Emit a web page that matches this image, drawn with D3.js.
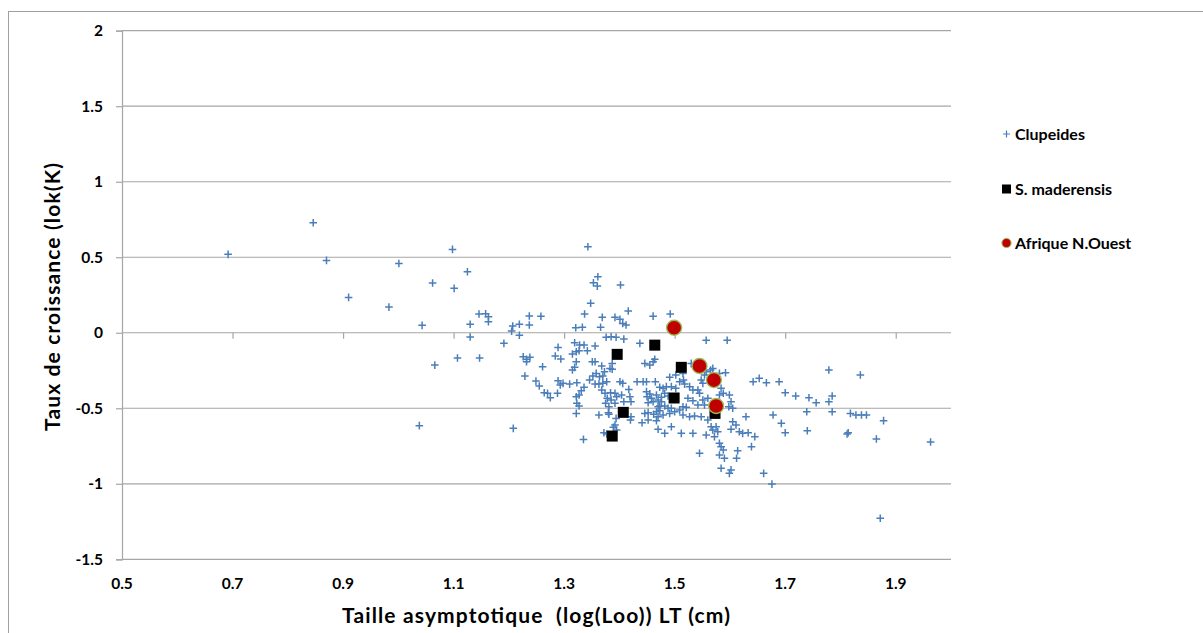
<!DOCTYPE html>
<html>
<head>
<meta charset="utf-8">
<script src="https://cdn.jsdelivr.net/npm/d3@7"></script>
<style>
  html, body { margin: 0; padding: 0; background: #ffffff; }
  svg { display: block; font-family: Lato, "Noto Sans", sans-serif; }
</style>
</head>
<body>
<svg id="chart" width="1203" height="633"></svg>
<script>
// Clupeides: log asymptotic length (x) vs growth rate log(K) (y)
const clupeidesX = [
  0.692,0.846,0.870,0.910,0.983,1.001,1.043,1.062,1.066,1.038,1.098,1.101,1.125,1.107,1.130,1.130,1.146,1.158,1.163,1.163,1.147,
  1.343,1.191,1.207,1.205,1.219,1.219,1.237,1.237,1.258,1.226,1.232,1.238,1.232,1.229,1.208,1.261,1.249,1.255,1.264,1.270,1.275,
  1.289,1.284,1.294,1.289,1.293,1.298,1.288,1.310,1.315,1.319,1.315,1.322,1.327,1.319,1.328,1.322,1.321,1.333,1.337,1.348,1.353,
  1.360,1.361,1.336,1.342,1.356,1.323,1.322,1.327,1.323,1.327,1.322,1.335,1.331,1.336,1.346,1.352,1.358,1.364,1.370,1.356,1.363,
  1.351,1.356,1.368,1.369,1.392,1.366,1.402,1.416,1.401,1.406,1.412,1.376,1.385,1.394,1.408,1.387,1.387,1.373,1.383,1.370,1.377,
  1.368,1.374,1.384,1.392,1.378,1.385,1.375,1.381,1.392,1.395,1.401,1.406,1.404,1.408,1.417,1.419,1.421,1.432,1.443,1.449,1.465,
  1.363,1.380,1.381,1.372,1.377,1.389,1.395,1.392,1.394,1.421,1.420,1.441,1.446,1.452,1.462,1.467,1.467,1.470,1.449,1.455,1.458,
  1.461,1.452,1.467,1.470,1.470,1.446,1.455,1.461,1.464,1.437,1.461,
  1.492,1.557,1.595,1.530,1.536,1.491,1.502,1.515,1.450,1.473,1.479,1.485,1.494,1.502,1.476,1.482,1.488,1.476,1.482,1.473,1.488,
  1.494,1.491,1.479,1.470,1.473,1.500,1.509,1.515,1.515,1.521,1.452,1.482,1.494,1.512,1.533,1.509,1.516,1.518,1.527,1.533,1.542,
  1.545,1.551,1.548,1.554,1.557,1.565,1.569,1.581,1.592,1.524,1.533,1.551,1.560,1.542,1.554,1.527,1.536,1.548,1.560,1.566,1.569,
  1.575,1.578,1.557,1.572,1.581,1.584,1.588,1.581,1.545,1.590,1.614,1.612,1.584,1.602,1.599,1.581,1.588,1.584,1.599,1.602,1.598,
  1.605,1.605,1.611,1.602,1.617,1.623,1.629,1.645,1.639,1.633,1.642,1.653,1.666,1.689,1.678,1.661,1.676,
  1.700,1.719,1.743,1.756,1.779,1.785,1.779,1.836,1.693,1.700,1.739,1.785,1.740,1.818,1.828,1.838,1.847,1.878,1.812,1.814,1.865,
  1.963,1.872
];
const clupeidesY = [
  0.519,0.728,0.479,0.234,0.170,0.459,0.049,0.329,-0.214,-0.615,0.552,0.294,0.404,-0.167,0.056,-0.028,0.124,0.126,0.106,0.073,-0.167,
  0.569,-0.070,0.044,0.011,0.056,-0.017,0.111,0.051,0.109,-0.159,-0.176,-0.163,-0.192,-0.287,-0.633,-0.225,-0.320,-0.353,-0.397,-0.401,-0.430,
  -0.097,-0.154,-0.174,-0.318,-0.346,-0.335,-0.401,-0.340,-0.247,-0.229,-0.141,-0.126,-0.119,-0.066,-0.081,-0.192,0.033,0.036,0.124,0.195,0.331,
  0.309,0.371,-0.081,-0.119,-0.088,-0.331,-0.424,-0.412,-0.467,-0.485,-0.534,-0.706,-0.384,-0.361,-0.313,-0.287,-0.269,-0.291,-0.287,-0.340,-0.340,
  -0.192,-0.192,-0.220,0.102,0.102,0.036,0.316,0.144,0.089,0.062,0.051,-0.030,-0.026,-0.030,-0.042,-0.203,-0.242,-0.258,-0.236,-0.335,-0.324,
  -0.379,-0.401,-0.397,-0.401,-0.434,-0.445,-0.467,-0.490,-0.467,-0.424,-0.324,-0.335,-0.412,-0.457,-0.375,-0.424,-0.457,-0.324,-0.324,-0.324,-0.324,
  -0.545,-0.529,-0.540,-0.662,-0.670,-0.626,-0.644,-0.611,-0.567,-0.556,-0.578,-0.596,-0.534,-0.529,-0.540,-0.523,-0.582,-0.639,-0.390,-0.405,-0.434,
  -0.457,-0.463,-0.412,-0.445,-0.490,-0.203,-0.214,-0.192,-0.176,-0.070,0.110,
  0.124,-0.050,-0.050,-0.203,-0.225,-0.295,-0.280,-0.269,-0.424,-0.361,-0.368,-0.357,-0.357,-0.368,-0.427,-0.401,-0.419,-0.457,-0.485,-0.485,-0.500,
  -0.500,-0.534,-0.545,-0.556,-0.516,-0.523,-0.512,-0.490,-0.545,-0.494,-0.578,-0.666,-0.622,-0.666,-0.666,-0.324,-0.313,-0.340,-0.357,-0.379,-0.379,
  -0.401,-0.335,-0.313,-0.280,-0.258,-0.247,-0.236,-0.269,-0.265,-0.434,-0.450,-0.445,-0.434,-0.478,-0.478,-0.556,-0.551,-0.556,-0.578,-0.622,-0.644,
  -0.622,-0.655,-0.677,-0.688,-0.732,-0.754,-0.776,-0.809,-0.798,-0.831,-0.781,-0.831,-0.897,-0.908,-0.931,-0.412,-0.401,-0.368,-0.412,-0.457,-0.490,
  -0.500,-0.589,-0.611,-0.639,-0.655,-0.666,-0.556,-0.688,-0.754,-0.662,-0.324,-0.302,-0.331,-0.324,-0.545,-0.931,-1.002,
  -0.397,-0.419,-0.430,-0.463,-0.457,-0.419,-0.247,-0.280,-0.600,-0.662,-0.523,-0.523,-0.649,-0.534,-0.545,-0.545,-0.545,-0.582,-0.670,-0.662,-0.703,
  -0.723,-1.228
];

// Sardinella maderensis
const maderensisX = [1.396, 1.464, 1.407, 1.387, 1.512, 1.499, 1.573];
const maderensisY = [-0.143, -0.082, -0.527, -0.684, -0.229, -0.432, -0.534];

// North-West Africa stocks
const afriqueX = [1.499, 1.545, 1.571, 1.575];
const afriqueY = [0.033, -0.220, -0.313, -0.485];

const xTicks = [0.5, 0.7, 0.9, 1.1, 1.3, 1.5, 1.7, 1.9];
const yTicks = [-1.5, -1, -0.5, 0, 0.5, 1, 1.5, 2];

const legendLabels = ["Clupeides", "S. maderensis", "Afrique N.Ouest"];

const svg = d3.select("#chart");
const gridColor = "#a6a6a6";
const blue = "#4a7ebb";

// outer chart frame
svg.append("rect")
  .attr("x", 8.5).attr("y", 11.5)
  .attr("width", 1220).attr("height", 640)
  .attr("fill", "none").attr("stroke", "#a0a0a0").attr("stroke-width", 1);

const x = d3.scaleLinear().domain([0.5, 2.0]).range([122, 951]);
const y = d3.scaleLinear().domain([-1.5, 2]).range([559.3, 30.7]);

// horizontal gridlines
svg.append("g").selectAll("line")
  .data(yTicks)
  .join("line")
  .attr("x1", x(0.5)).attr("x2", x(2.0))
  .attr("y1", d => y(d)).attr("y2", d => y(d))
  .attr("stroke", gridColor).attr("stroke-width", 1.2);

// vertical axis with outward ticks
const yAxis = svg.append("g")
  .attr("transform", `translate(${x(0.5)},0)`)
  .call(d3.axisLeft(y).tickValues(yTicks).tickSize(6).tickPadding(13).tickFormat(d => String(d)));
yAxis.select(".domain").attr("stroke", gridColor).attr("stroke-width", 1.2);
yAxis.selectAll(".tick line").attr("stroke", gridColor).attr("stroke-width", 1.2);
yAxis.selectAll(".tick text")
  .attr("font-family", "Lato, sans-serif")
  .attr("font-size", 15.5).attr("font-weight", 700).attr("fill", "#000");

// horizontal axis crossing at y = 0 (tick marks only)
const xAxis = svg.append("g")
  .attr("transform", `translate(0,${y(0)})`)
  .call(d3.axisBottom(x).tickValues(xTicks.slice(1)).tickSize(6).tickFormat(""));
xAxis.select(".domain").remove();
xAxis.selectAll(".tick line").attr("stroke", gridColor).attr("stroke-width", 1.2);

// horizontal tick labels along the bottom
svg.append("g").selectAll("text")
  .data(xTicks)
  .join("text")
  .attr("x", d => x(d))
  .attr("y", 589)
  .attr("text-anchor", "middle")
  .attr("font-size", 15.5).attr("font-weight", 700).attr("fill", "#000")
  .text(d => String(d));

// axis titles
svg.append("text")
  .attr("x", 536).attr("y", 623)
  .attr("text-anchor", "middle")
  .attr("font-size", 21).attr("font-weight", 700).attr("fill", "#000")
  .attr("textLength", 388).attr("lengthAdjust", "spacing")
  .style("white-space", "pre")
  .text("Taille asymptotique  (log(Loo)) LT (cm)");

svg.append("text")
  .attr("transform", "translate(60,297) rotate(-90)")
  .attr("text-anchor", "middle")
  .attr("font-size", 21).attr("font-weight", 700).attr("fill", "#000")
  .attr("textLength", 268).attr("lengthAdjust", "spacing")
  .text("Taux de croissance (lok(K)");

// markers
const crossPath = "M-3.8,0H3.8M0,-3.8V3.8";

svg.append("g").selectAll("path")
  .data(d3.zip(clupeidesX, clupeidesY))
  .join("path")
  .attr("transform", d => `translate(${x(d[0])},${y(d[1])})`)
  .attr("d", crossPath)
  .attr("stroke", blue).attr("stroke-width", 1.5).attr("fill", "none");

const sq = 11;
svg.append("g").selectAll("rect")
  .data(d3.zip(maderensisX, maderensisY))
  .join("rect")
  .attr("x", d => x(d[0]) - sq / 2).attr("y", d => y(d[1]) - sq / 2)
  .attr("width", sq).attr("height", sq)
  .attr("fill", "#000");

svg.append("g").selectAll("circle")
  .data(d3.zip(afriqueX, afriqueY))
  .join("circle")
  .attr("cx", d => x(d[0])).attr("cy", d => y(d[1]))
  .attr("r", 7.5)
  .attr("fill", "#c00000").attr("stroke", "#9bbb59").attr("stroke-width", 1.3);

// legend
const legend = svg.append("g");
const legendY = [134, 189, 243];
const lx = 1006.5;

legend.append("path")
  .attr("transform", `translate(${lx},${legendY[0]})`)
  .attr("d", "M-3.5,0H3.5M0,-3.5V3.5")
  .attr("stroke", blue).attr("stroke-width", 1.2).attr("fill", "none");
legend.append("rect")
  .attr("x", lx - 4.5).attr("y", legendY[1] - 4.5)
  .attr("width", 9).attr("height", 9).attr("fill", "#000");
legend.append("circle")
  .attr("cx", lx).attr("cy", legendY[2]).attr("r", 4.6)
  .attr("fill", "#c00000").attr("stroke", "#9bbb59").attr("stroke-width", 1);

legend.selectAll("text")
  .data(legendLabels)
  .join("text")
  .attr("x", 1015)
  .attr("y", (d, i) => legendY[i] + 5.5)
  .attr("font-size", 16).attr("font-weight", 700).attr("fill", "#000")
  .text(d => d);
</script>
</body>
</html>
